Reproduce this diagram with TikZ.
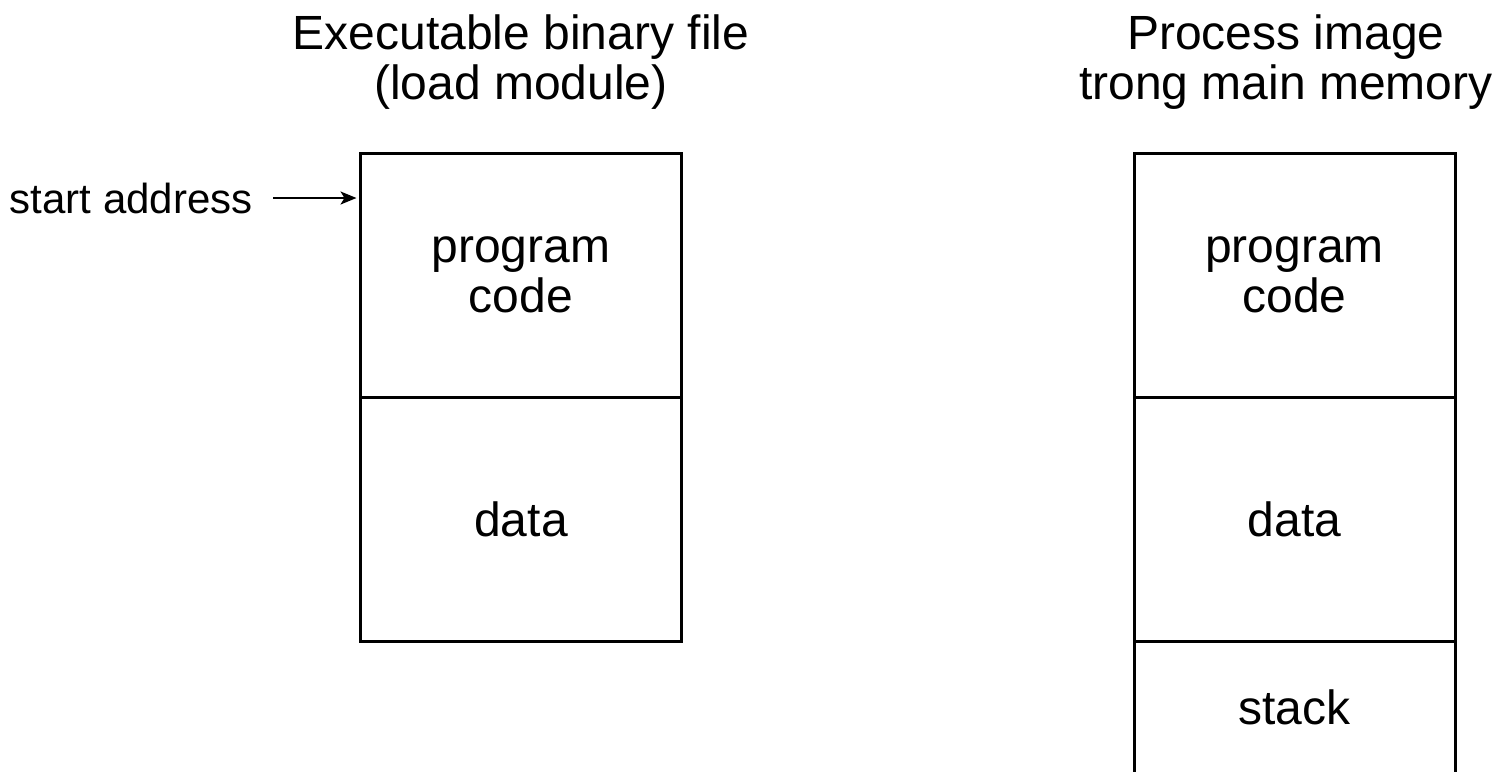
\documentclass[tikz,border=0pt]{standalone}
\usepackage{fontspec}
\setmainfont{Liberation Sans}
\usetikzlibrary{arrows.meta}

\tikzset{
  cell/.style={draw, line width=1.5pt, minimum width=160.5pt, minimum height=122pt,
    inner sep=0pt, outer sep=0pt, align=center, font=\fontsize{24}{25}\selectfont},
  heading/.style={align=center, font=\fontsize{24}{25}\selectfont},
}

\begin{document}
\begin{tikzpicture}[x=0.5pt, y=-0.5pt]
    \useasboundingbox (0,0) rectangle (1496,772);
    % load module
    \node[heading] (filetitle) at (521,62) {Executable binary file\\(load module)};
    \node[cell] (fcode) at (521,275) {program\\code};
    \node[cell] (fdata) at (521,519) {data};
    % main memory
    \node[heading] (memtitle) at (1286,62) {Process image\\trong main memory};
    \node[cell] (mcode) at (1294.5,275) {program\\code};
    \node[cell] (mdata) at (1294.5,519) {data};
    \node[cell, draw=none, minimum height=66pt] (mstack) at (1294.5,707) {stack};
    \draw[line width=1.5pt] (mstack.south west) -- (mstack.north west) -- (mstack.north east) -- (mstack.south east);
    % start address
    \node[font=\fontsize{21}{25}\selectfont, anchor=east, inner sep=0pt] (start) at (253,198) {start address};
    \coordinate (entry) at (fcode.west |- start.east);
    \draw[-{Stealth[length=8pt,width=6.5pt,inset=2pt]}, line width=1pt, shorten <=10pt, shorten >=2pt] (start.east) -- (entry);
\end{tikzpicture}
\end{document}
